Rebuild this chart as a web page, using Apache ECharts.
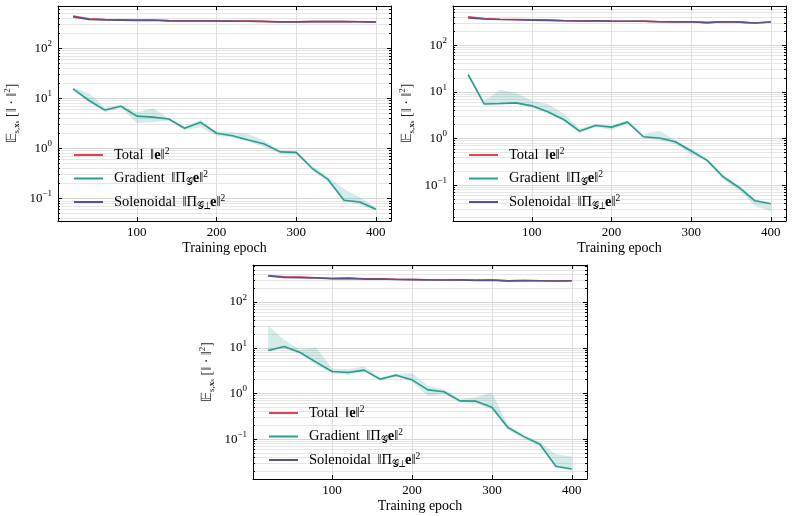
<!DOCTYPE html>
<html>
<head>
<meta charset="utf-8">
<script src="https://cdn.jsdelivr.net/npm/echarts@6/dist/echarts.min.js"></script>
<style>
html, body { margin: 0; padding: 0; background: #fff; }
#chart { width: 794px; height: 516px; }
</style>
</head>
<body>
<div id="chart"></div>
<script>
// training epochs (shared x values)
const epochs = [20, 40, 60, 80, 100, 120, 140, 160, 180, 200, 220, 240, 260, 280, 300, 320, 340, 360, 380, 400];

// panel A (top left)
const gradA = [15.4, 9.0, 5.8, 6.9, 4.4, 4.2, 3.86, 2.51, 3.31, 2.0, 1.79, 1.47, 1.22, 0.85, 0.83, 0.40, 0.24, 0.092, 0.085, 0.061];
const gradLowA = [14.7, 8.3, 5.25, 6.6, 3.2, 3.3, 3.58, 2.33, 2.63, 1.79, 1.66, 1.36, 1.05, 0.79, 0.77, 0.37, 0.21, 0.087, 0.075, 0.057];
const gradHighA = [16.1, 12.6, 6.4, 7.5, 5.25, 6.3, 4.04, 2.71, 3.69, 2.19, 2.09, 1.94, 1.42, 0.90, 0.87, 0.45, 0.27, 0.154, 0.105, 0.066];
const solA = [420, 375, 365, 362, 358, 360, 350, 348, 348, 347, 345, 344, 340, 332, 333, 338, 340, 338, 336, 330];
const totalA = [435, 384, 371, 369, 362, 364, 354, 351, 351, 349, 347, 345, 341, 333, 334, 338, 340, 338, 336, 330];

// panel B (top right)
const gradB = [23.5, 5.5, 5.6, 5.8, 5.0, 3.73, 2.55, 1.44, 1.9, 1.75, 2.24, 1.09, 1.02, 0.85, 0.54, 0.34, 0.151, 0.089, 0.046, 0.040];
const gradLowB = [21, 5.2, 5.3, 5.5, 4.6, 3.43, 2.35, 1.28, 1.78, 1.51, 2.1, 1.02, 0.92, 0.76, 0.46, 0.32, 0.132, 0.078, 0.0355, 0.028];
const gradHighB = [27, 6.4, 10.9, 9.5, 6.4, 5.45, 3.43, 1.64, 2.03, 1.9, 2.47, 1.24, 1.46, 0.92, 0.61, 0.37, 0.166, 0.098, 0.05, 0.042];
const solB = [385, 365, 355, 350, 345, 340, 333, 330, 332, 328, 325, 327, 318, 316, 318, 305, 318, 312, 300, 315];
const totalB = [408, 371, 361, 356, 350, 344, 336, 331, 334, 330, 327, 328, 319, 317, 319, 305, 318, 312, 300, 315];

// panel C (bottom)
const gradC = [8.7, 10.7, 7.9, 4.86, 3.03, 2.88, 3.24, 2.06, 2.52, 1.99, 1.2, 1.09, 0.69, 0.68, 0.50, 0.18, 0.114, 0.078, 0.0256, 0.0224];
const gradLowC = [8.3, 9.8, 7.3, 4.25, 2.79, 2.56, 2.98, 1.89, 2.35, 1.8, 0.89, 0.98, 0.64, 0.61, 0.44, 0.16, 0.103, 0.071, 0.0236, 0.021];
const gradHighC = [30.3, 15, 9.0, 10.3, 3.52, 3.41, 3.9, 2.28, 2.7, 2.79, 1.47, 1.24, 0.75, 0.83, 1.05, 0.206, 0.126, 0.085, 0.047, 0.042];
const solC = [370, 345, 342, 335, 325, 330, 318, 320, 312, 310, 306, 303, 305, 298, 302, 290, 294, 293, 288, 292];
const totalC = [379, 356, 350, 340, 328, 333, 321, 322, 315, 312, 307, 304, 306, 299, 303, 290, 294, 293, 288, 292];

// tick positions
const xTicks = [100, 200, 300, 400];
const yMajor = [0.1, 1, 10, 100];
const yMinor = [0.02, 0.03, 0.04, 0.05, 0.06, 0.07, 0.08, 0.09,
  0.2, 0.3, 0.4, 0.5, 0.6, 0.7, 0.8, 0.9,
  2, 3, 4, 5, 6, 7, 8, 9,
  20, 30, 40, 50, 60, 70, 80, 90,
  200, 300, 400, 500, 600, 700, 800, 900];

const FONT = 'Liberation Serif';
const RED = '#e5404e';
const TEAL = '#2a9d8f';
const PURPLE = '#5d5189';

const panels = [
  { left: 58, top: 6, width: 333, height: 215, ymin: 0.0355, ymax: 692,
    grad: gradA, low: gradLowA, high: gradHighA, sol: solA, total: totalA },
  { left: 453, top: 6, width: 333, height: 215, ymin: 0.0170, ymax: 692,
    grad: gradB, low: gradLowB, high: gradHighB, sol: solB, total: totalB },
  { left: 253, top: 265, width: 334, height: 214, ymin: 0.0135, ymax: 646,
    grad: gradC, low: gradLowC, high: gradHighC, sol: solC, total: totalC }
];

const supRich = {
  b: { fontFamily: FONT, fontSize: 13, lineHeight: 18, color: '#000' },
  s: { fontFamily: FONT, fontSize: 9, lineHeight: 9, verticalAlign: 'top', color: '#000' }
};

function yLabel(v) {
  const e = Math.round(Math.log10(v));
  return '{b|10}{s|' + (e < 0 ? '\u2212' + (-e) : e) + '}';
}

const grids = [], xAxes = [], yAxes = [], series = [], legends = [];

panels.forEach((p, i) => {
  grids.push({ left: p.left, top: p.top, width: p.width, height: p.height });

  // bottom x axis
  xAxes.push({
    type: 'value', gridIndex: i, min: 1, max: 419, position: 'bottom',
    name: 'Training epoch', nameLocation: 'middle', nameGap: 20,
    nameTextStyle: { fontFamily: FONT, fontSize: 14, color: '#000' },
    axisLine: { show: true, onZero: false, lineStyle: { color: '#000', width: 1 } },
    axisTick: { inside: true, length: 4, customValues: xTicks, lineStyle: { color: '#000' } },
    axisLabel: { customValues: xTicks, fontFamily: FONT, fontSize: 13, color: '#000', margin: 5 },
    splitLine: { show: true, lineStyle: { color: '#dedede', width: 1 } }
  });
  // top x axis (frame + ticks only)
  xAxes.push({
    type: 'value', gridIndex: i, min: 1, max: 419, position: 'top',
    axisLine: { show: true, onZero: false, lineStyle: { color: '#000', width: 1 } },
    axisTick: { inside: true, length: 4, customValues: xTicks, lineStyle: { color: '#000' } },
    axisLabel: { show: false },
    splitLine: { show: false }
  });

  // left major
  yAxes.push({
    type: 'log', gridIndex: i, min: p.ymin, max: p.ymax, position: 'left',
    name: '{t|\uD835\uDD3C}{sub|s,}{bs|x}{ss|s}{t| [\u2016 \u00B7 \u2016}{sup|2}{t|]}',
    nameLocation: 'middle', nameGap: 37,
    nameTextStyle: {
      color: '#222',
      rich: {
        t: { fontFamily: FONT, fontSize: 14, lineHeight: 18, color: '#222' },
        sub: { fontFamily: FONT, fontSize: 9, lineHeight: 9, verticalAlign: 'bottom', color: '#222' },
        bs: { fontFamily: FONT, fontSize: 9, fontWeight: 'bold', lineHeight: 9, verticalAlign: 'bottom', color: '#222' },
        ss: { fontFamily: FONT, fontSize: 7, lineHeight: 6, verticalAlign: 'bottom', color: '#222' },
        sup: { fontFamily: FONT, fontSize: 9, lineHeight: 9, verticalAlign: 'top', color: '#222' }
      }
    },
    axisLine: { show: true, lineStyle: { color: '#000', width: 1 } },
    axisTick: { inside: true, length: 4, customValues: yMajor, lineStyle: { color: '#000' } },
    axisLabel: { customValues: yMajor, formatter: yLabel, rich: supRich, margin: 6 },
    splitLine: { show: true, lineStyle: { color: '#d6d6d6', width: 1 } }
  });
  // left minor
  yAxes.push({
    type: 'log', gridIndex: i, min: p.ymin, max: p.ymax, position: 'left',
    axisLine: { show: false },
    axisTick: { inside: true, length: 2, customValues: yMinor, lineStyle: { color: '#000' } },
    axisLabel: { show: false },
    splitLine: { show: true, lineStyle: { color: '#e6e6e6', width: 1 } }
  });
  // right major
  yAxes.push({
    type: 'log', gridIndex: i, min: p.ymin, max: p.ymax, position: 'right',
    axisLine: { show: true, lineStyle: { color: '#000', width: 1 } },
    axisTick: { inside: true, length: 4, customValues: yMajor, lineStyle: { color: '#000' } },
    axisLabel: { show: false },
    splitLine: { show: false }
  });
  // right minor
  yAxes.push({
    type: 'log', gridIndex: i, min: p.ymin, max: p.ymax, position: 'right',
    axisLine: { show: false },
    axisTick: { inside: true, length: 2, customValues: yMinor, lineStyle: { color: '#000' } },
    axisLabel: { show: false },
    splitLine: { show: false }
  });

  const xi = 2 * i, yi = 4 * i;

  // shaded band around the gradient curve
  series.push({
    type: 'custom', name: 'band' + i, xAxisIndex: xi, yAxisIndex: yi,
    silent: true, clip: true, z: 1,
    data: epochs.map((e, k) => [e, p.low[k], p.high[k]]),
    encode: { x: 0, y: [1, 2] },
    renderItem: (params, api) => {
      if (params.dataIndex !== 0) return;
      const pts = [];
      for (let k = 0; k < epochs.length; k++) pts.push(api.coord([epochs[k], p.high[k]]));
      for (let k = epochs.length - 1; k >= 0; k--) pts.push(api.coord([epochs[k], p.low[k]]));
      return { type: 'polygon', shape: { points: pts }, style: { fill: 'rgba(42,157,143,0.2)' } };
    }
  });

  const mk = (name, vals, color) => ({
    name: name, type: 'line', xAxisIndex: xi, yAxisIndex: yi,
    data: epochs.map((e, k) => [e, vals[k]]),
    symbol: 'none', showSymbol: false, z: 3,
    lineStyle: { color: color, width: 1.6 },
    itemStyle: { color: color }
  });
  series.push(mk('Total', p.total, RED));
  series.push(mk('Gradient', p.grad, TEAL));
  series.push(mk('Solenoidal', p.sol, PURPLE));

  legends.push({
    orient: 'vertical', left: p.left + 11, top: p.top + p.height - 80,
    itemWidth: 29, itemHeight: 2, itemGap: 5.5, icon: 'rect',
    data: ['Total', 'Gradient', 'Solenoidal'],
    selectedMode: false,
    formatter: name => {
      if (name === 'Total') return 'Total \u2009\u2016{b|e}\u2016{sup|2}';
      if (name === 'Gradient') return 'Gradient \u2009\u2016\u03A0{sub|\uD835\uDCA2}{b|e}\u2016{sup|2}';
      return 'Solenoidal \u2009\u2016\u03A0{sub|\uD835\uDCA2\u22A5}{b|e}\u2016{sup|2}';
    },
    textStyle: {
      fontFamily: FONT, fontSize: 14.5, color: '#000', lineHeight: 18, padding: [0, 0, 0, 6],
      rich: {
        b: { fontFamily: FONT, fontSize: 14.5, fontWeight: 'bold', lineHeight: 18, color: '#000' },
        sup: { fontFamily: FONT, fontSize: 9.5, lineHeight: 9, verticalAlign: 'top', color: '#000' },
        sub: { fontFamily: FONT, fontSize: 9.5, lineHeight: 9, verticalAlign: 'bottom', color: '#000' }
      }
    }
  });
});

const chart = echarts.init(document.getElementById('chart'));
chart.setOption({
  animation: false,
  backgroundColor: '#fff',
  grid: grids,
  xAxis: xAxes,
  yAxis: yAxes,
  legend: legends,
  series: series
});
</script>
</body>
</html>
